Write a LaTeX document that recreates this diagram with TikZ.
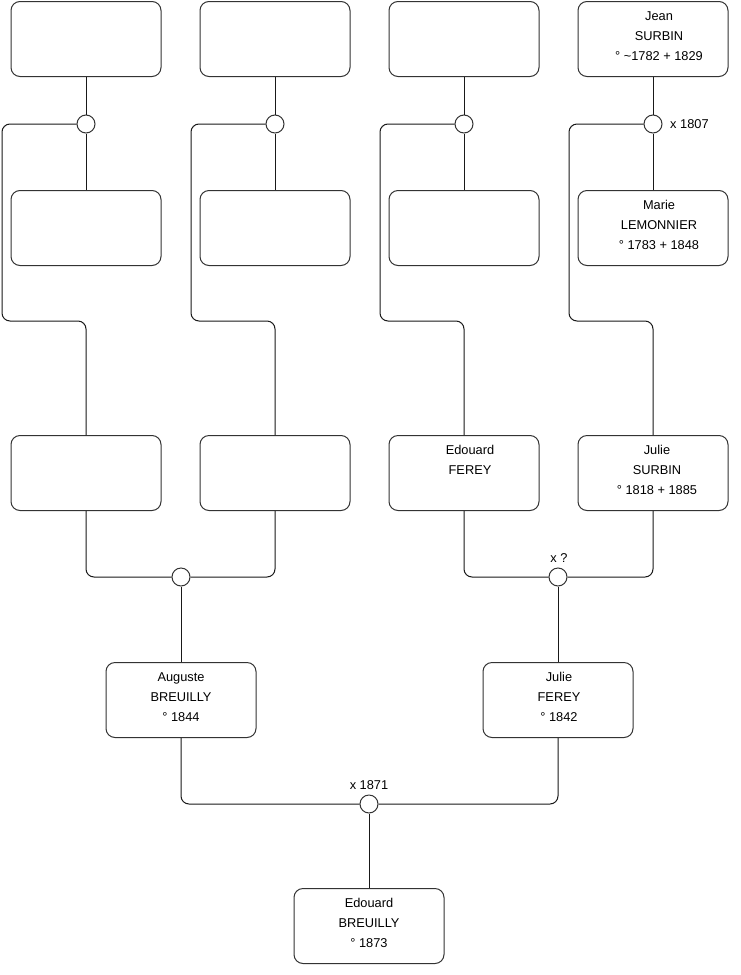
\documentclass[tikz,border=0pt]{standalone}
\usepackage{fontspec}
\setmainfont{Liberation Sans}
\newcommand\ppl[2][12pt]{\parbox[c][75pt][t]{150pt}{\fontsize{12.8}{20}\selectfont\centering\leftskip=#1 plus 1fil\vspace*{4.8pt}\strut#2}}
\begin{document}
\begin{tikzpicture}[x=1pt,y=-1pt,
  person/.style={draw=black!80, rounded corners=9pt, line width=1pt, minimum width=150pt, minimum height=75pt, inner sep=0pt, anchor=north, fill=white},
  union/.style={circle, draw=black!80, fill=white, minimum size=18pt, inner sep=0pt, line width=1pt},
  link/.style={draw=black!90, line width=1pt, rounded corners=8pt},
  lab/.style={inner sep=0pt, font=\fontsize{12.8}{14}\selectfont}]
\fill[white] (0,0) rectangle (740,975);
\useasboundingbox (0,0) rectangle (740,975);
% row 1
\node[person] (g1) at (86,1) {\ppl{}};
\node[person] (g2) at (275,1) {\ppl{}};
\node[person] (g3) at (464,1) {\ppl{}};
\node[person] (g4) at (653,1) {\ppl{Jean\\SURBIN\\° \textasciitilde 1782 + 1829}};
% row 2
\node[person] (h1) at (86,190) {\ppl{}};
\node[person] (h2) at (275,190) {\ppl{}};
\node[person] (h3) at (464,190) {\ppl{}};
\node[person] (h4) at (653,190) {\ppl{Marie\\LEMONNIER\\° 1783 + 1848}};
% row 3
\node[person] (p1) at (86,435) {\ppl{}};
\node[person] (p2) at (275,435) {\ppl{}};
\node[person] (p3) at (464,435) {\ppl{Edouard\\FEREY}};
\node[person] (p4) at (653,435) {\ppl[8pt]{Julie\\SURBIN\\° 1818 + 1885}};
% row 4
\node[person] (a1) at (181,662) {\ppl[0pt]{Auguste\\BREUILLY\\° 1844}};
\node[person] (a2) at (558,662) {\ppl[2pt]{Julie\\FEREY\\° 1842}};
% row 5
\node[person] (e) at (369,888) {\ppl[0pt]{Edouard\\BREUILLY\\° 1873}};
% unions
\node[union] (u1) at (86,124) {};
\node[union] (u2) at (275,124) {};
\node[union] (u3) at (464,124) {};
\node[union] (u4) at (653,124) {};
\node[union] (v1) at (181,577) {};
\node[union] (v2) at (558,577) {};
\node[union] (w) at (369,804) {};
% labels
\node[lab, anchor=west] (l1) at (670,124) {x 1807};
\node[lab] (l2) at (559,558) {x ?};
\node[lab] (l3) at (369,785) {x 1871};
% connectors
\draw[link] (g1) -- (u1) -- (h1);
\draw[link] (g2) -- (u2) -- (h2);
\draw[link] (g3) -- (u3) -- (h3);
\draw[link] (g4) -- (u4) -- (h4);
\draw[link] (u1.west) -- (2,124) -- (2,321) -- (86,321) -- (p1.north);
\draw[link] (u2.west) -- (191,124) -- (191,321) -- (275,321) -- (p2.north);
\draw[link] (u3.west) -- (380,124) -- (380,321) -- (464,321) -- (p3.north);
\draw[link] (u4.west) -- (569,124) -- (569,321) -- (653,321) -- (p4.north);
\draw[link] (p1.south) |- (v1.west);
\draw[link] (p2.south) |- (v1.east);
\draw[link] (p3.south) |- (v2.west);
\draw[link] (p4.south) |- (v2.east);
\draw[link] (v1) -- (a1);
\draw[link] (v2) -- (a2);
\draw[link] (a1.south) |- (w.west);
\draw[link] (a2.south) |- (w.east);
\draw[link] (w) -- (e);
\end{tikzpicture}
\end{document}
